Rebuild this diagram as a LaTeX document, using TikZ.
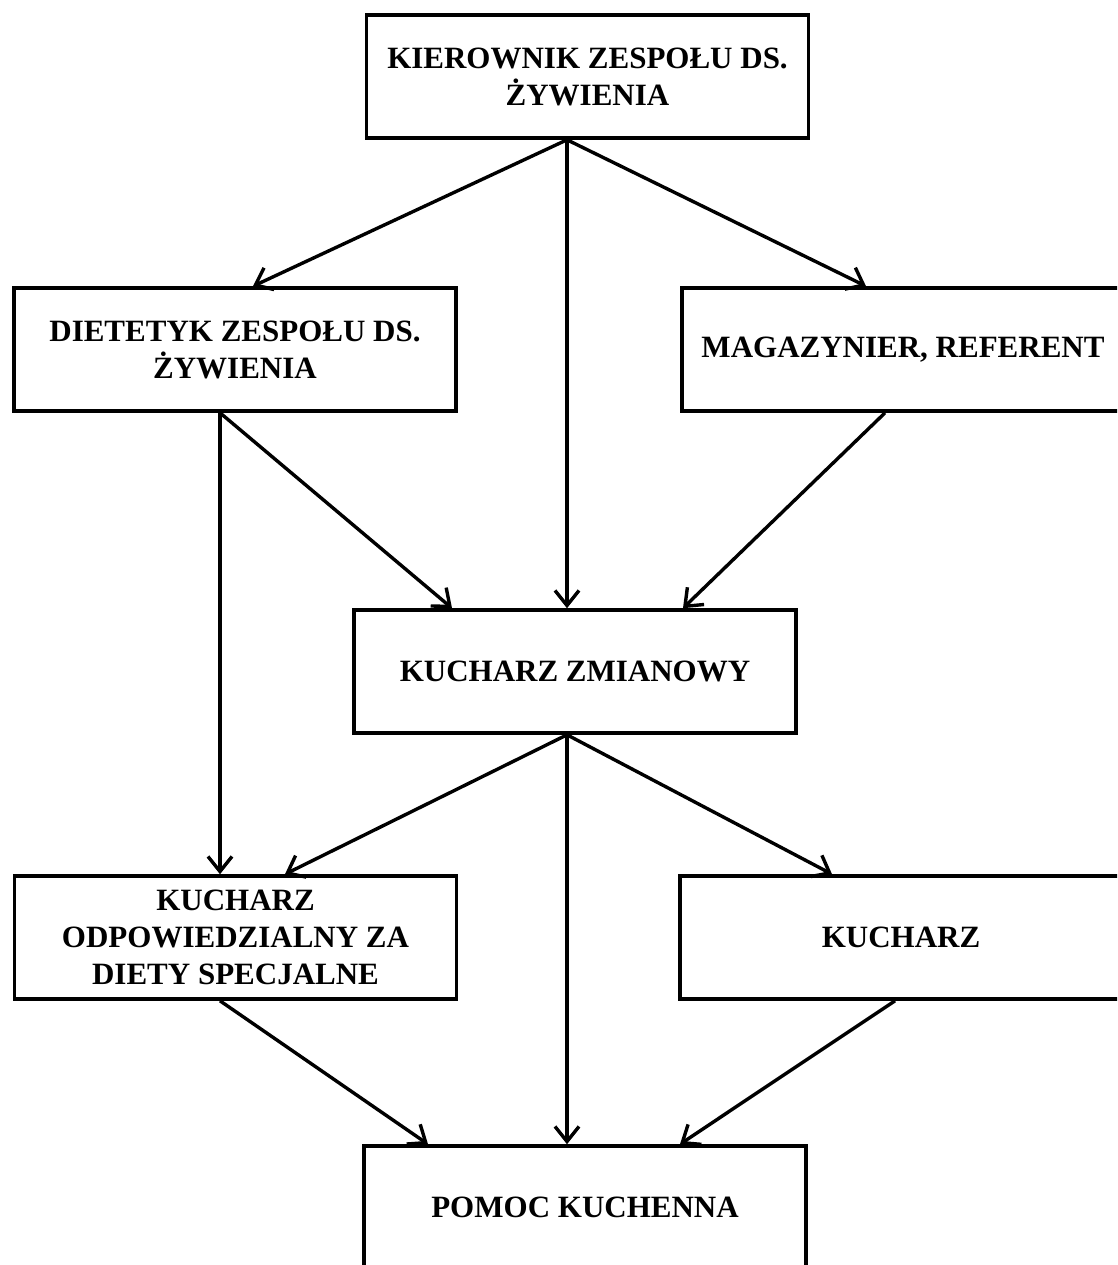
\documentclass[tikz,border=0pt]{standalone}
\usepackage{fontspec}
\setmainfont{Liberation Serif}
\usetikzlibrary{arrows.meta}
\begin{document}
\begin{tikzpicture}[x=1pt,y=-1pt,
  box/.style={draw, line width=3.6pt, minimum width=442pt, minimum height=123pt, inner sep=0pt,
    align=center, font=\fontsize{31}{37}\selectfont\bfseries},
  conn/.style={line width=3.4pt, -{Straight Barb[length=15pt,width=24pt,line width=3.4pt]}}]
\useasboundingbox (0,0) rectangle (1117,1265);
\clip (0,0) rectangle (1117,1265);
\fill[white] (0,0) rectangle (1117,1265);
\node[box] (top) at (587.5,76.5) {KIEROWNIK ZESPOŁU DS.\\ŻYWIENIA};
\node[box] (dl) at (235,349.5) {DIETETYK ZESPOŁU DS.\\ŻYWIENIA};
\node[box] (mg) at (903,349.5) {MAGAZYNIER, REFERENT};
\node[box] (zm) at (575,671.5) {KUCHARZ ZMIANOWY};
\node[box] (ko) at (235.5,937.5) {KUCHARZ\\ODPOWIEDZIALNY ZA\\DIETY SPECJALNE};
\node[box] (ku) at (901,937.5) {KUCHARZ};
\node[box] (pk) at (585,1207.5) {POMOC KUCHENNA};
\draw[conn] ([xshift=-20.5pt]top.south) -- ([xshift=18pt]dl.north);
\draw[conn] ([xshift=-20.5pt]top.south) -- ([xshift=-8pt]zm.north);
\draw[conn] ([xshift=-20.5pt]top.south) -- ([xshift=-37pt]mg.north);
\draw[conn] ([xshift=-15pt]dl.south) -- ([xshift=-15.5pt]ko.north);
\draw[conn] ([xshift=-15pt]dl.south) -- ([xshift=-123pt]zm.north);
\draw[conn] ([xshift=-18pt]mg.south) -- ([xshift=108pt]zm.north);
\draw[conn] ([xshift=-8pt]zm.south) -- ([xshift=49.5pt]ko.north);
\draw[conn] ([xshift=-8pt]zm.south) -- ([xshift=-18pt]pk.north);
\draw[conn] ([xshift=-8pt]zm.south) -- ([xshift=-69pt]ku.north);
\draw[conn] ([xshift=-15.5pt]ko.south) -- ([xshift=-157pt]pk.north);
\draw[conn] ([xshift=-6pt]ku.south) -- ([xshift=95pt]pk.north);
\end{tikzpicture}
\end{document}
